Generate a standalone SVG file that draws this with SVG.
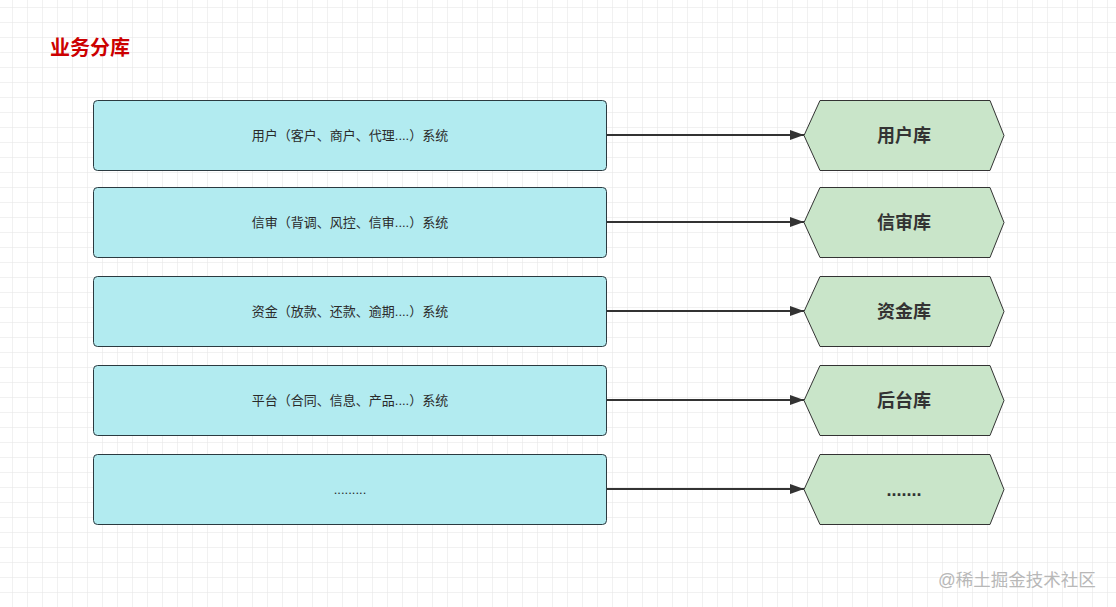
<svg xmlns="http://www.w3.org/2000/svg" width="1116" height="607" viewBox="0 0 1116 607">
  <style>
    .sys rect { fill: #b2ebf0; stroke: #2b3a40; stroke-width: 1; }
    .db polygon { fill: #c9e5c9; stroke: #333333; stroke-width: 1; }
    .st { font-family: "Liberation Sans", "Noto Sans CJK SC", sans-serif; font-size: 13px; fill: #2a2a2a; text-anchor: middle; }
    .dt { font-family: "Liberation Sans", "Noto Sans CJK SC", sans-serif; font-size: 18px; font-weight: bold; fill: #333333; text-anchor: middle; }
    .conn line { stroke: #333333; stroke-width: 2; fill: none; }
  </style>
  <defs>
    <pattern id="grid" x="12" y="7" width="15" height="15" patternUnits="userSpaceOnUse">
      <path d="M0 0 H15 M0 0 V15" stroke="#e3e3e3" stroke-width="1" fill="none"/>
    </pattern>
    <marker id="arr" viewBox="0 0 14 10" refX="14" refY="5" markerWidth="14" markerHeight="10" markerUnits="userSpaceOnUse" orient="auto">
      <path d="M0 0 L14 5 L0 10 Z" fill="#333333"/>
    </marker>
  </defs>
  <rect width="1116" height="607" fill="#ffffff"/>
  <rect width="1116" height="607" fill="url(#grid)"/>

  <text x="50" y="55" font-family="Liberation Sans, Noto Sans CJK SC, sans-serif" font-size="20" font-weight="bold" fill="#cc0000">业务分库</text>

  <g class="conn">
    <line x1="607" y1="135" x2="804" y2="135" marker-end="url(#arr)"/>
    <line x1="607" y1="222" x2="804" y2="222" marker-end="url(#arr)"/>
    <line x1="607" y1="311" x2="804" y2="311" marker-end="url(#arr)"/>
    <line x1="607" y1="400" x2="804" y2="400" marker-end="url(#arr)"/>
    <line x1="607" y1="489" x2="804" y2="489" marker-end="url(#arr)"/>
  </g>

  <g id="sys1" class="sys">
    <rect x="93.5" y="100.5" width="513" height="70" rx="4"/>
    <text class="st" x="350" y="140">用户（客户、商户、代理....）系统</text>
  </g>
  <g id="sys2" class="sys">
    <rect x="93.5" y="187.5" width="513" height="70" rx="4"/>
    <text class="st" x="350" y="227">信审（背调、风控、信审....）系统</text>
  </g>
  <g id="sys3" class="sys">
    <rect x="93.5" y="276.5" width="513" height="70" rx="4"/>
    <text class="st" x="350" y="316">资金（放款、还款、逾期....）系统</text>
  </g>
  <g id="sys4" class="sys">
    <rect x="93.5" y="365.5" width="513" height="70" rx="4"/>
    <text class="st" x="350" y="405">平台（合同、信息、产品....）系统</text>
  </g>
  <g id="sys5" class="sys">
    <rect x="93.5" y="454.5" width="513" height="70" rx="4"/>
    <text class="st" x="350" y="494">.........</text>
  </g>

  <g id="db1" class="db">
    <polygon points="804,135.5 820,100.5 990,100.5 1004,135.5 990,170.5 820,170.5"/>
    <text class="dt" x="904" y="142">用户库</text>
  </g>
  <g id="db2" class="db">
    <polygon points="804,222.5 820,187.5 990,187.5 1004,222.5 990,257.5 820,257.5"/>
    <text class="dt" x="904" y="229">信审库</text>
  </g>
  <g id="db3" class="db">
    <polygon points="804,311.5 820,276.5 990,276.5 1004,311.5 990,346.5 820,346.5"/>
    <text class="dt" x="904" y="318">资金库</text>
  </g>
  <g id="db4" class="db">
    <polygon points="804,400.5 820,365.5 990,365.5 1004,400.5 990,435.5 820,435.5"/>
    <text class="dt" x="904" y="407">后台库</text>
  </g>
  <g id="db5" class="db">
    <polygon points="804,489.5 820,454.5 990,454.5 1004,489.5 990,524.5 820,524.5"/>
    <text class="dt" x="904" y="496">.......</text>
  </g>

  <text x="1017" y="586" text-anchor="middle" font-family="Liberation Sans, Noto Sans CJK SC, sans-serif" font-size="17.5" fill="#b8b8b8">@稀土掘金技术社区</text>
</svg>
